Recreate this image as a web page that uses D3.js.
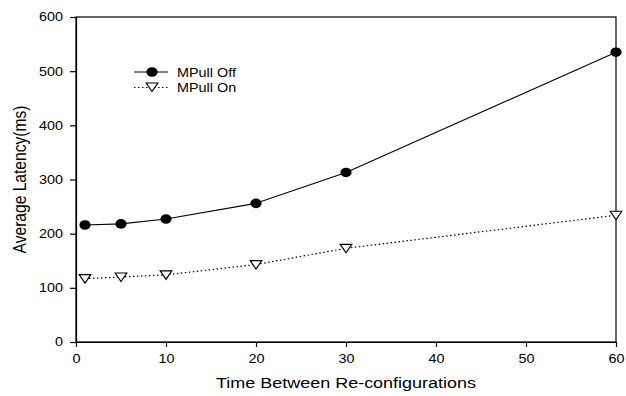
<!DOCTYPE html>
<html><head><meta charset="utf-8">
<script src="https://cdn.jsdelivr.net/npm/d3@7"></script>
<style>body{margin:0;background:#fff}svg{display:block}text{font-family:"Liberation Sans",Arial,sans-serif;fill:#000}</style>
</head><body><svg id="c" width="626" height="396"></svg>
<script>
const xValues = [1, 5, 10, 20, 30, 60];
const mpullOff = [216, 218, 227, 256, 313, 535];
const mpullOn = [117, 120, 124, 143, 173, 234];
const xTicks = [0, 10, 20, 30, 40, 50, 60];
const yTicks = [0, 100, 200, 300, 400, 500, 600];
const seriesNames = ["MPull Off", "MPull On"];

const SX = 1.2; // horizontal stretch of the reference's text
const svg = d3.select("#c");
const m = {l: 76, r: 10, t: 17, b: 54};
const W = 626, H = 396;
const x = d3.scaleLinear().domain([0, 60]).range([m.l, W - m.r]);
const y = d3.scaleLinear().domain([0, 600]).range([H - m.b, m.t]);

svg.append("rect").attr("x", m.l).attr("y", m.t).attr("width", W - m.r - m.l).attr("height", H - m.b - m.t)
  .attr("fill", "none").attr("stroke", "#000").attr("stroke-width", 1.2);

const xa = svg.append("g").attr("transform", `translate(0,${H - m.b})`)
  .call(d3.axisBottom(x).tickValues(xTicks).tickSize(5).tickSizeOuter(0).tickPadding(7));
const ya = svg.append("g").attr("transform", `translate(${m.l},0)`)
  .call(d3.axisLeft(y).tickValues(yTicks).tickSize(6).tickSizeOuter(0));
[xa, ya].forEach(a => {
  a.select(".domain").attr("stroke", "#000").attr("stroke-width", 1.2);
  a.selectAll(".tick line").attr("stroke", "#000").attr("stroke-width", 1.2);
  a.selectAll(".tick text").attr("font-size", 12).attr("font-family", "Liberation Sans, Arial, sans-serif").attr("fill", "#000");
});
xa.selectAll(".tick text").attr("transform", `scale(${SX},1)`);
ya.selectAll(".tick text").attr("x", -13 / SX).attr("transform", `scale(${SX},1)`);

svg.append("text").attr("transform", `translate(${(m.l + W - m.r) / 2},388) scale(${SX},1)`).attr("text-anchor", "middle")
  .attr("font-size", 15).text("Time Between Re-configurations");
svg.append("text").attr("transform", `translate(26,${(m.t + H - m.b) / 2 + 0}) scale(${SX},1) rotate(-90)`).attr("text-anchor", "middle")
  .attr("font-size", 15.6).text("Average Latency(ms)");

const line = d3.line().x(d => x(d[0])).y(d => y(d[1]));
const offData = xValues.map((v, i) => [v, mpullOff[i]]);
const onData = xValues.map((v, i) => [v, mpullOn[i]]);

svg.append("path").datum(offData).attr("d", line).attr("fill", "none").attr("stroke", "#000").attr("stroke-width", 1.1);
svg.append("path").datum(onData).attr("d", line).attr("fill", "none").attr("stroke", "#000").attr("stroke-width", 1.2).attr("stroke-dasharray", "1.5,2.5");

const tri = "M-5.8,-4L5.8,-4L0,4.5Z";
svg.selectAll(".off").data(offData).join("ellipse").attr("cx", d => x(d[0])).attr("cy", d => y(d[1])).attr("rx", 5.6).attr("ry", 4.8).attr("fill", "#000");
svg.selectAll(".on").data(onData).join("path").attr("d", tri).attr("transform", d => `translate(${x(d[0])},${y(d[1])})`)
  .attr("fill", "#fff").attr("stroke", "#000").attr("stroke-width", 1.2);

const lg = svg.append("g");
lg.append("line").attr("x1", 134).attr("x2", 168).attr("y1", 72).attr("y2", 72).attr("stroke", "#000").attr("stroke-width", 1.1);
lg.append("ellipse").attr("cx", 152).attr("cy", 72).attr("rx", 5.6).attr("ry", 4.8).attr("fill", "#000");
lg.append("line").attr("x1", 134).attr("x2", 168).attr("y1", 87.5).attr("y2", 87.5).attr("stroke", "#000").attr("stroke-width", 1.2).attr("stroke-dasharray", "1.5,2.5");
lg.append("path").attr("d", tri).attr("transform", "translate(152,87)").attr("fill", "#fff").attr("stroke", "#000").attr("stroke-width", 1.2);
lg.selectAll(".lt").data(seriesNames).join("text")
  .attr("transform", (d, i) => `translate(177,${76.5 + i * 15}) scale(${SX},1)`).attr("font-size", 12).text(d => d);
</script></body></html>
